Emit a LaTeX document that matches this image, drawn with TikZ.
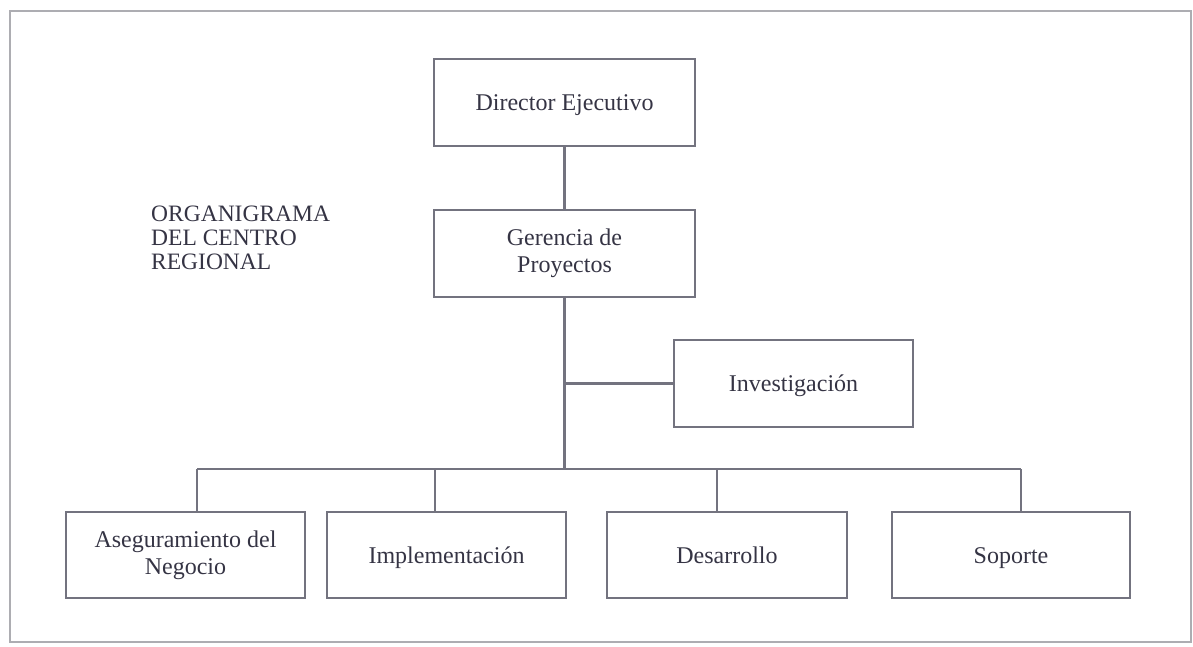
\documentclass[tikz,border=0pt]{standalone}
\usepackage{fontspec}
\setmainfont{Liberation Serif}
\definecolor{inkc}{HTML}{353444}
\definecolor{edgec}{HTML}{73737F}
\definecolor{framec}{HTML}{ADADB2}
\begin{document}
\begin{tikzpicture}[x=1pt,y=-1pt,
  unit/.style={draw=edgec, line width=2.4pt, inner sep=0pt, align=center,
    text=inkc, font=\fontsize{24}{27}\selectfont, minimum height=87pt},
  oneline/.style={text height=21pt, text depth=5pt},
  link/.style={draw=edgec, line width=2.2pt}]
  \useasboundingbox (0,0) rectangle (1193,646);
  % outer frame
  \draw[framec, line width=2.2pt] (10,11) rectangle (1191,642);

  % title
  \node[anchor=north west, inner sep=0pt, align=left, text=inkc,
        font=\fontsize{23.5}{24}\selectfont] (title) at (151,206)
        {ORGANIGRAMA\\DEL CENTRO\\REGIONAL};

  % boxes
  \node[unit, oneline, minimum width=261pt] (dir) at (564.5,102.5) {Director Ejecutivo};
  \node[unit, minimum width=261pt] (ger) at (564.5,253.5) {Gerencia de\\Proyectos};
  \node[unit, oneline, minimum width=239pt] (inv) at (793.5,383.5) {Investigación};
  \node[unit, minimum width=239pt, minimum height=86pt] (aseg) at (185.5,555) {Aseguramiento del\\Negocio};
  \node[unit, oneline, minimum width=239pt, minimum height=86pt] (impl) at (446.5,555) {Implementación};
  \node[unit, oneline, minimum width=240pt, minimum height=86pt] (des) at (727,555) {Desarrollo};
  \node[unit, oneline, minimum width=238pt, minimum height=86pt] (sop) at (1011,555) {Soporte};

  % branch points on the lower bus
  \coordinate (bA) at (197,469);
  \coordinate (bI) at (435,469);
  \coordinate (bD) at (717,469);
  \coordinate (bS) at (1021,469);

  % connectors
  \draw[link] (dir.south) -- (ger.north);
  \draw[link] (ger.south) -- (ger.south |- bA);
  \draw[link] (inv.west) -- (inv.west -| ger.south);
  \draw[link] (bA) -- (bS);
  \draw[link] (bA) -- (bA |- aseg.north);
  \draw[link] (bI) -- (bI |- impl.north);
  \draw[link] (bD) -- (bD |- des.north);
  \draw[link] (bS) -- (bS |- sop.north);
\end{tikzpicture}
\end{document}
